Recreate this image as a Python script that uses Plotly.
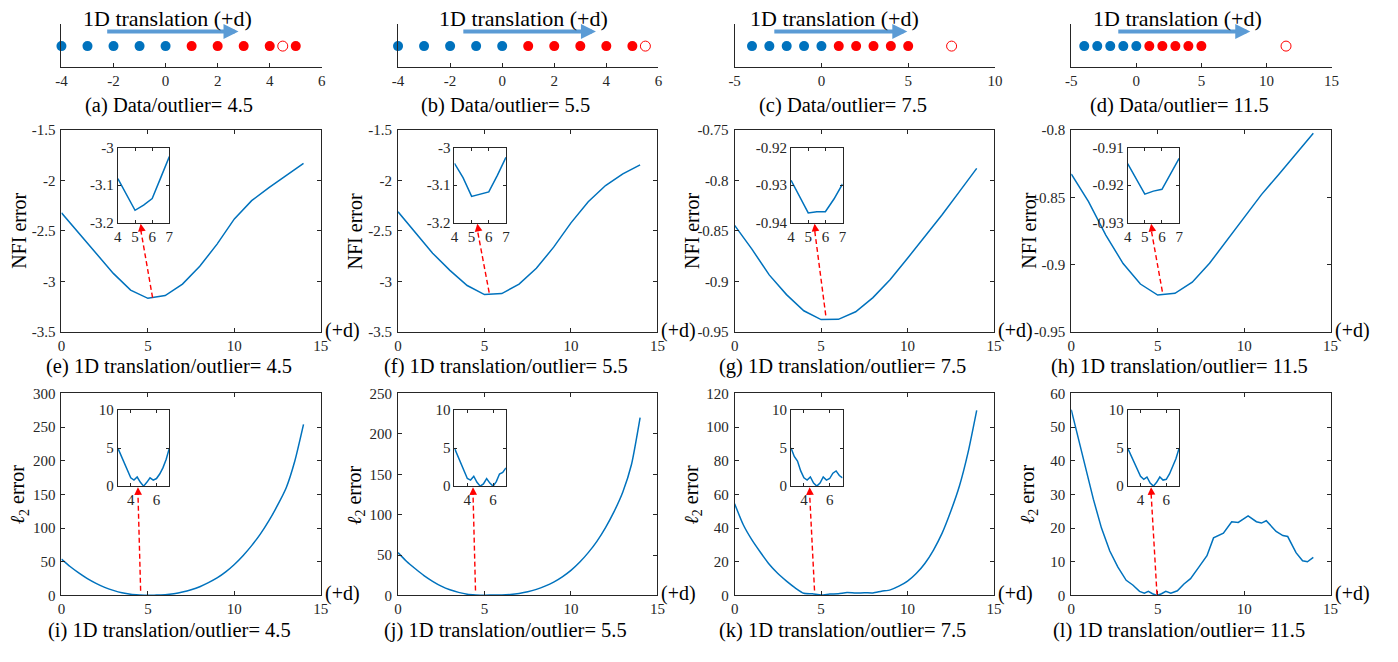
import math
import plotly.graph_objects as go

W, H = 1398, 662
FONT = "Liberation Serif"
AX_COLOR = "#262626"
BLUE = "#0072BD"
RED = "#FF0000"
ARROW_BLUE = "#5B9BD5"

# ---------------- data ----------------
# top row: 1D data points
BLUE_X = [-4, -3, -2, -1, 0]
RED_X = [1, 2, 3, 4, 5]
DOT_Y = 0
OUTLIER_X = [4.5, 5.5, 7.5, 11.5]
TOP_XRANGE = [[-4, 6], [-4, 6], [-5, 10], [-5, 15]]
TOP_XTICKS = [[-4, -2, 0, 2, 4, 6], [-4, -2, 0, 2, 4, 6], [-5, 0, 5, 10], [-5, 0, 5, 10, 15]]
TRANS_ARROW = [(-2.3, 2.8), (-1.55, 3.6), (-2.8, 4.95), (-1.5, 8.75)]
TRANS_TITLE_X = [0.07, 0.83, 0.76, 3.14]
TRANS_TITLE = "1D translation (+d)"

# middle row: NFI error
D_INT = list(range(15))
NFI_A = [-2.32, -2.52, -2.72, -2.92, -3.085, -3.167, -3.139, -3.026, -2.85, -2.63, -2.38, -2.2, -2.07, -1.95, -1.83]
NFI_B = [-2.31, -2.51, -2.72, -2.89, -3.04, -3.13, -3.12, -3.026, -2.87, -2.66, -2.42, -2.21, -2.05, -1.935, -1.845]
NFI_C = [-0.8445, -0.868, -0.8935, -0.913, -0.929, -0.9377, -0.9375, -0.930, -0.916, -0.898, -0.877, -0.856, -0.834, -0.811, -0.788]
NFI_D = [-0.8327, -0.8532, -0.878, -0.8992, -0.9144, -0.9226, -0.9213, -0.913, -0.899, -0.882, -0.865, -0.848, -0.833, -0.818, -0.8025]
NFI_RANGES = [[-3.5, -1.5], [-3.5, -1.5], [-0.95, -0.75], [-0.95, -0.8]]
NFI_YTICKS = [[-3.5, -3, -2.5, -2, -1.5], [-3.5, -3, -2.5, -2, -1.5],
              [-0.95, -0.9, -0.85, -0.8, -0.75], [-0.95, -0.9, -0.85, -0.8]]

D_IN_NFI = [4, 4.5, 5, 5.5, 6, 6.5, 7]
NFI_IN_A = [-3.083, -3.125, -3.167, -3.153, -3.136, -3.08, -3.024]
NFI_IN_B = [-3.042, -3.08, -3.13, -3.124, -3.118, -3.074, -3.026]
NFI_IN_C = [-0.9287, -0.933, -0.9374, -0.9371, -0.9371, -0.9337, -0.9297]
NFI_IN_D = [-0.9143, -0.9183, -0.9224, -0.9216, -0.9211, -0.917, -0.9129]
NFI_IN_RANGES = [[-3.2, -3.0], [-3.2, -3.0], [-0.94, -0.92], [-0.93, -0.91]]
NFI_IN_YTICKS = [[-3.2, -3.1, -3], [-3.2, -3.1, -3], [-0.94, -0.93, -0.92], [-0.93, -0.92, -0.91]]
NFI_IN_XTICKS = [4, 5, 6, 7]

# bottom row: l2 error
D_HALF = [i * 0.5 for i in range(29)]
L2_A = [54, 43, 33.5, 25, 18, 12, 7.5, 4, 1.8, 0.8, 0.2, 0.6, 1, 2.5, 5, 8.5, 13, 19, 26, 35,
        46, 59, 74, 91, 111, 134, 160, 200, 254]
L2_B = [53, 42, 33, 24.5, 17.5, 11.5, 7, 3.8, 1.6, 0.7, 0.3, 0.5, 0.5, 1.2, 2.5, 4.5, 7.5, 11.5,
        16.5, 23, 31, 41, 53, 67, 84, 104, 128, 162, 220]
L2_C = [54.5, 42, 33, 25.5, 18.5, 13, 8.5, 4.5, 1.3, 1, 0.2, 0.8, 1, 1.7, 1.4, 1.6, 1.5, 2.5,
        3.3, 5.5, 8.5, 13, 19, 27, 37, 50, 65, 85, 110]
D_L2_D = [0, 0.42, 0.8, 1.28, 1.75, 2.23, 2.7, 3.18, 3.56, 3.95, 4.23, 4.46, 4.7, 4.96, 5.22, 5.47,
          5.76, 6.14, 6.52, 6.9, 7.38, 7.85, 8.23, 8.8, 9.28, 9.66, 10.23, 10.71, 11.0, 11.28,
          11.85, 12.24, 12.52, 13.0, 13.38, 13.66, 14.0]
L2_D = [55.2, 46.5, 38.3, 28.6, 20.0, 13.2, 8.4, 4.5, 3.1, 1.2, 0.7, 1.2, 0.5, 0.0, 0.5, 1.2,
        0.7, 1.4, 3.4, 5.0, 8.4, 11.8, 17.1, 18.5, 21.9, 21.7, 23.6, 21.9, 21.5, 22.2,
        19.0, 17.8, 17.5, 12.7, 10.3, 10.0, 11.3]
L2_RANGES = [[0, 300], [0, 250], [0, 120], [0, 60]]
L2_YTICKS = [[0, 50, 100, 150, 200, 250, 300], [0, 50, 100, 150, 200, 250],
             [0, 20, 40, 60, 80, 100, 120], [0, 10, 20, 30, 40, 50, 60]]

D_IN_L2 = [3 + 0.25 * i for i in range(17)]
L2_IN_A = [5.0, 4.0, 3.2, 2.1, 1.1, 0.8, 1.2, 0.5, 0.0, 0.5, 1.1, 0.8, 1.0, 1.6, 2.4, 3.5, 5.0]
L2_IN_B = [5.0, 4.0, 3.2, 2.0, 1.0, 0.8, 1.3, 0.5, 0.0, 0.3, 1.0, 0.4, 0.0, 0.6, 1.6, 1.8, 2.4]
L2_IN_C = [5.0, 3.9, 3.3, 2.0, 1.1, 0.8, 1.2, 0.4, 0.0, 0.4, 1.2, 0.8, 1.0, 1.7, 2.0, 1.4, 1.1]
L2_IN_D = [5.0, 4.1, 3.3, 2.3, 1.3, 0.9, 1.2, 0.4, 0.0, 0.5, 1.2, 0.8, 0.9, 1.6, 2.6, 3.6, 5.0]
L2_IN_XRANGE = [3, 7]
L2_IN_YRANGE = [0, 10]
L2_IN_XTICKS = [4, 6]
L2_IN_YTICKS = [0, 5, 10]

MAIN_XTICKS = [0, 5, 10, 15]

# red arrows: (start x, start y) in main axes, tip x in inset axes (tip y = inset bottom)
NFI_ARROWS = [(5.27, -3.16, 5.33), (5.27, -3.11, 5.33), (5.27, -0.9336, 5.37), (5.27, -0.920, 5.37)]
L2_ARROWS = [(4.58, 7, 4.56), (4.48, 6, 4.44), (4.62, 2.9, 4.44), (4.96, 0.3, 4.82)]

TOP_CAPTIONS = ["(a) Data/outlier= 4.5", "(b) Data/outlier= 5.5",
                "(c) Data/outlier= 7.5", "(d) Data/outlier= 11.5"]
NFI_CAPTIONS = ["(e) 1D translation/outlier= 4.5", "(f) 1D translation/outlier= 5.5",
                "(g) 1D translation/outlier= 7.5", "(h) 1D translation/outlier= 11.5"]
L2_CAPTIONS = ["(i) 1D translation/outlier= 4.5", "(j) 1D translation/outlier= 5.5",
               "(k) 1D translation/outlier= 7.5", "(l) 1D translation/outlier= 11.5"]
NFI_LABEL = "NFI error"
L2_LABEL = "<i>ℓ</i><sub>2</sub> error"
D_LABEL = "(+d)"

# ---------------- geometry (pixels) ----------------
COL_W = 340
MAIN_X = (56, 318)
TOP_X = (56, 319)
TOP_Y = (16, 60)
TOP_YRANGE = [-1, 1.1]
NFI_Y = (125, 332)
L2_Y = (395, 602)
INSET_X = (113, 165)
NFI_IN_Y = (143, 220)
L2_IN_Y = (412, 490)
CAPTION_Y = [100, 367, 638]
CAPTION_CX = 165
YLABEL_X = 13

TICK_FS = 15
LABEL_FS = 20
CAPTION_FS = 20.5
TITLE_FS = 22

layout = {}
annotations = []
shapes = []
ax_count = [0]


def px2x(px):
    return px / W


def px2y(py):
    return 1 - py / H


def fmt(v):
    return "%g" % v


def new_axes(xdom, ydom, xkw, ykw):
    ax_count[0] += 1
    n = ax_count[0]
    sx = "" if n == 1 else str(n)
    layout["xaxis" + sx] = dict(domain=[px2x(xdom[0]), px2x(xdom[1])], anchor="y" + sx, **xkw)
    layout["yaxis" + sx] = dict(domain=[px2y(ydom[1]), px2y(ydom[0])], anchor="x" + sx, **ykw)
    return "x" + sx, "y" + sx


def box_axis(rng, tickvals, ticklen, standoff=0):
    return dict(range=rng, tickvals=tickvals, ticktext=[fmt(v) for v in tickvals],
                showline=True, linecolor=AX_COLOR, linewidth=1, mirror="allticks",
                ticks="inside", ticklen=ticklen, tickcolor=AX_COLOR, tickwidth=1,
                showgrid=False, zeroline=False, fixedrange=True, ticklabelstandoff=standoff,
                tickfont=dict(family=FONT, size=TICK_FS, color=AX_COLOR))


def to_px(val, rng, dom, vertical):
    f = (val - rng[0]) / (rng[1] - rng[0])
    if vertical:
        return dom[1] - f * (dom[1] - dom[0])
    return dom[0] + f * (dom[1] - dom[0])


def red_arrow(sx_px, sy_px, tx_px, ty_px):
    shapes.append(dict(type="line", xref="paper", yref="paper",
                       x0=px2x(sx_px), y0=px2y(sy_px), x1=px2x(tx_px), y1=px2y(ty_px + 6),
                       line=dict(color=RED, width=1.4, dash="5px,3px")))
    dx, dy = sx_px - tx_px, sy_px - ty_px
    L = math.hypot(dx, dy)
    annotations.append(dict(x=px2x(tx_px), y=px2y(ty_px), xref="paper", yref="paper",
                            ax=dx / L * 9, ay=dy / L * 9, text="", showarrow=True,
                            arrowhead=2, arrowsize=1.1, arrowwidth=1.4, arrowcolor=RED))


def text_ann(xp, yp, text, size, **kw):
    d = dict(x=px2x(xp), y=px2y(yp), xref="paper", yref="paper", text=text, showarrow=False,
             font=dict(family=FONT, size=size, color="black"), xanchor="center", yanchor="middle")
    d.update(kw)
    annotations.append(d)


fig = go.Figure()

NFI_ALL = [NFI_A, NFI_B, NFI_C, NFI_D]
NFI_IN_ALL = [NFI_IN_A, NFI_IN_B, NFI_IN_C, NFI_IN_D]
L2_X_ALL = [D_HALF, D_HALF, D_HALF, D_L2_D]
L2_ALL = [L2_A, L2_B, L2_C, L2_D]
L2_IN_ALL = [L2_IN_A, L2_IN_B, L2_IN_C, L2_IN_D]

for c in range(4):
    off = c * COL_W

    # ---- top row ----
    xk = dict(range=TOP_XRANGE[c], tickvals=TOP_XTICKS[c], ticktext=[fmt(v) for v in TOP_XTICKS[c]],
              showline=True, linecolor=AX_COLOR, linewidth=1, ticks="inside", ticklen=4,
              tickcolor=AX_COLOR, showgrid=False, zeroline=False, fixedrange=True,
              tickfont=dict(family=FONT, size=TICK_FS, color=AX_COLOR))
    yk = dict(range=TOP_YRANGE, showline=True, linecolor=AX_COLOR, linewidth=1, ticks="",
              showticklabels=False, showgrid=False, zeroline=False, fixedrange=True)
    xa, ya = new_axes((off + TOP_X[0], off + TOP_X[1]), TOP_Y, xk, yk)
    fig.add_trace(go.Scatter(x=BLUE_X, y=[DOT_Y] * len(BLUE_X), mode="markers",
                             marker=dict(color=BLUE, size=10), xaxis=xa, yaxis=ya, cliponaxis=False))
    fig.add_trace(go.Scatter(x=RED_X, y=[DOT_Y] * len(RED_X), mode="markers",
                             marker=dict(color=RED, size=10), xaxis=xa, yaxis=ya, cliponaxis=False))
    fig.add_trace(go.Scatter(x=[OUTLIER_X[c]], y=[DOT_Y], mode="markers",
                             marker=dict(color=RED, size=10, symbol="circle-open", line=dict(width=1)),
                             xaxis=xa, yaxis=ya, cliponaxis=False))
    x0a, x1a = TRANS_ARROW[c]
    annotations.append(dict(x=x1a, y=0.72, ax=x0a, ay=0.72, xref=xa, yref=ya, axref=xa, ayref=ya,
                            text="", showarrow=True, arrowhead=2, arrowsize=0.75, arrowwidth=4,
                            arrowcolor=ARROW_BLUE))
    annotations.append(dict(x=TRANS_TITLE_X[c], y=px2y(11), xref=xa, yref="paper", text=TRANS_TITLE,
                            showarrow=False, font=dict(family=FONT, size=TITLE_FS, color="black"),
                            xanchor="center", yanchor="middle"))
    text_ann(off + CAPTION_CX, CAPTION_Y[0], TOP_CAPTIONS[c], CAPTION_FS)

    # ---- NFI row ----
    xa, ya = new_axes((off + MAIN_X[0], off + MAIN_X[1]), NFI_Y,
                      box_axis([0, 15], MAIN_XTICKS, 4),
                      box_axis(NFI_RANGES[c], NFI_YTICKS[c], 4, standoff=2))
    fig.add_trace(go.Scatter(x=D_INT, y=NFI_ALL[c], mode="lines", line=dict(color=BLUE, width=1.5),
                             xaxis=xa, yaxis=ya))
    xa, ya = new_axes((off + INSET_X[0], off + INSET_X[1]), NFI_IN_Y,
                      box_axis([4, 7], NFI_IN_XTICKS, 3), box_axis(NFI_IN_RANGES[c], NFI_IN_YTICKS[c], 3))
    fig.add_trace(go.Scatter(x=D_IN_NFI, y=NFI_IN_ALL[c], mode="lines", line=dict(color=BLUE, width=1.5),
                             xaxis=xa, yaxis=ya))
    sx, sy, tx = NFI_ARROWS[c]
    red_arrow(to_px(sx, [0, 15], (off + MAIN_X[0], off + MAIN_X[1]), False),
              to_px(sy, NFI_RANGES[c], NFI_Y, True),
              to_px(tx, [4, 7], (off + INSET_X[0], off + INSET_X[1]), False),
              NFI_IN_Y[1] + 1)
    text_ann(off + YLABEL_X, (NFI_Y[0] + NFI_Y[1]) / 2, NFI_LABEL, LABEL_FS, textangle=-90)
    text_ann(off + MAIN_X[1] + 2, NFI_Y[1] - 2, D_LABEL, LABEL_FS, xanchor="left")
    text_ann(off + CAPTION_CX, CAPTION_Y[1], NFI_CAPTIONS[c], CAPTION_FS)

    # ---- l2 row ----
    xa, ya = new_axes((off + MAIN_X[0], off + MAIN_X[1]), L2_Y,
                      box_axis([0, 15], MAIN_XTICKS, 4),
                      box_axis(L2_RANGES[c], L2_YTICKS[c], 4, standoff=2))
    shape = "linear" if c == 3 else "spline"
    fig.add_trace(go.Scatter(x=L2_X_ALL[c], y=L2_ALL[c], mode="lines",
                             line=dict(color=BLUE, width=1.5, shape=shape, smoothing=0.6),
                             xaxis=xa, yaxis=ya))
    xa, ya = new_axes((off + INSET_X[0], off + INSET_X[1]), L2_IN_Y,
                      box_axis(L2_IN_XRANGE, L2_IN_XTICKS, 3), box_axis(L2_IN_YRANGE, L2_IN_YTICKS, 3))
    fig.add_trace(go.Scatter(x=D_IN_L2, y=L2_IN_ALL[c], mode="lines", line=dict(color=BLUE, width=1.5),
                             xaxis=xa, yaxis=ya))
    sx, sy, tx = L2_ARROWS[c]
    red_arrow(to_px(sx, [0, 15], (off + MAIN_X[0], off + MAIN_X[1]), False),
              to_px(sy, L2_RANGES[c], L2_Y, True),
              to_px(tx, L2_IN_XRANGE, (off + INSET_X[0], off + INSET_X[1]), False),
              L2_IN_Y[1] + 1)
    text_ann(off + YLABEL_X, (L2_Y[0] + L2_Y[1]) / 2, L2_LABEL, LABEL_FS, textangle=-90)
    text_ann(off + MAIN_X[1] + 2, L2_Y[1] - 2, D_LABEL, LABEL_FS, xanchor="left")
    text_ann(off + CAPTION_CX, CAPTION_Y[2], L2_CAPTIONS[c], CAPTION_FS)

fig.update_layout(**layout)
fig.update_layout(width=W, height=H, margin=dict(l=0, r=0, t=0, b=0),
                  paper_bgcolor="white", plot_bgcolor="white", showlegend=False,
                  annotations=annotations, shapes=shapes,
                  font=dict(family=FONT, color=AX_COLOR))
fig.write_html("out.html", config={"displayModeBar": False})
